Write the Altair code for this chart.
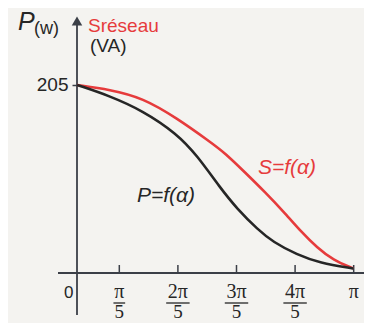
import altair as alt
import pandas as pd

# --- data (alpha in units of pi/5) ---
alpha_S = [0.28, 0.84, 1.40, 1.98, 2.55, 2.80, 3.14, 3.49, 3.83, 4.12, 4.37, 4.65, 4.99]
S_vals = [205, 200, 191, 169, 143, 131, 110, 88, 65, 44, 28, 14, 5]
alpha_P = [0.28, 0.84, 1.40, 1.98, 2.33, 2.72, 3.01, 3.37, 3.62, 4.03, 4.42, 4.99]
P_vals = [205, 193, 177, 152, 128, 93, 70, 47, 34, 20, 11, 5]

tick_values = [1, 2, 3, 4, 5]
tick_numerators = ["π", "2π", "3π", "4π", "π"]
tick_denominators = ["5", "5", "5", "5", ""]
y_ticks = [205]

RED = "#e63b3c"
DARK = "#262626"
AXIS = "#3b3f47"
BG = "#f4f3f0"

W, H = 287, 261
xs = alt.Scale(domain=[0.278, 5.176], nice=False, zero=False)
ys = alt.Scale(domain=[0, 284.6], nice=False)

curves = pd.concat([
    pd.DataFrame({"a": alpha_S, "v": S_vals, "s": "S"}),
    pd.DataFrame({"a": alpha_P, "v": P_vals, "s": "P"}),
])

base_curve = alt.Chart(curves).mark_line(strokeWidth=2.6, interpolate="basis", clip=False).encode(
    x=alt.X("a:Q", scale=xs, axis=None),
    y=alt.Y("v:Q", scale=ys, axis=alt.Axis(values=y_ticks, domain=False, grid=False, tickSize=5,
                                             tickColor=AXIS, tickWidth=1.5, labelFontSize=19,
                                             labelFont="Liberation Sans", labelColor=DARK,
                                             labelPadding=4, title=None)),
    color=alt.Color("s:N", scale=alt.Scale(domain=["S", "P"], range=[RED, DARK]), legend=None),
)

one = pd.DataFrame({"k": [0]})

yaxis = alt.Chart(one).mark_rule(color=AXIS, strokeWidth=1.8).encode(
    x=alt.value(0), y=alt.value(8), y2=alt.value(303))
xaxis = alt.Chart(one).mark_rule(color=AXIS, strokeWidth=2).encode(
    y=alt.value(H), x=alt.value(-19), x2=alt.value(W))
arrow = alt.Chart(one).mark_point(shape="triangle-up", filled=True, opacity=1,
                                  color=AXIS, size=110).encode(x=alt.value(0), y=alt.value(9))

ticks_df = pd.DataFrame({"a": tick_values, "num": tick_numerators, "den": tick_denominators})
xticks = alt.Chart(ticks_df).mark_rule(color=AXIS, strokeWidth=1.5).encode(
    x=alt.X("a:Q", scale=xs, axis=None), y=alt.value(H), y2=alt.value(H - 8))
num = alt.Chart(ticks_df).mark_text(font="Liberation Serif", fontSize=20, color=DARK,
                                    baseline="alphabetic").encode(
    x=alt.X("a:Q", scale=xs, axis=None), y=alt.value(286), text="num:N")
frac = alt.Chart(ticks_df).transform_filter("datum.den != ''").transform_calculate(
    lo="datum.a - length(datum.num) * 0.1", hi="datum.a + length(datum.num) * 0.1"
).mark_rule(color=DARK, strokeWidth=1.3).encode(
    x=alt.X("lo:Q", scale=xs, axis=None), x2="hi:Q", y=alt.value(291))
den = alt.Chart(ticks_df).mark_text(font="Liberation Serif", fontSize=19, color=DARK,
                                    baseline="alphabetic").encode(
    x=alt.X("a:Q", scale=xs, axis=None), y=alt.value(306), text="den:N")

def label(txt, x, y, size, color, style="normal", align="left", font="Liberation Sans"):
    return alt.Chart(one).mark_text(text=txt, font=font, fontSize=size, color=color, fontStyle=style,
                                    align=align, baseline="alphabetic").encode(
        x=alt.value(x), y=alt.value(y))

texts = [
    label("P", -59, 18, 25, DARK, style="italic"),
    label("(w)", -43, 22, 18, DARK),
    label("Sréseau", 11, 20, 19, RED),
    label("(VA)", 13, 40, 19, DARK),
    label("0", -13, 286, 17, DARK),
    label("P=f(α)", 60, 190, 21, DARK, style="italic"),
    label("S=f(α)", 181, 162, 21, RED, style="italic"),
]

chart = alt.layer(yaxis, xaxis, arrow, xticks, base_curve, num, frac, den, *texts).properties(
    width=W, height=H,
    autosize=alt.AutoSizeParams(type="none"),
    padding={"left": 69, "top": 4, "right": 0, "bottom": 50},
    background=BG,
).configure_view(stroke=None)

chart.save("out.html", embed_options={"renderer": "svg", "actions": False})
